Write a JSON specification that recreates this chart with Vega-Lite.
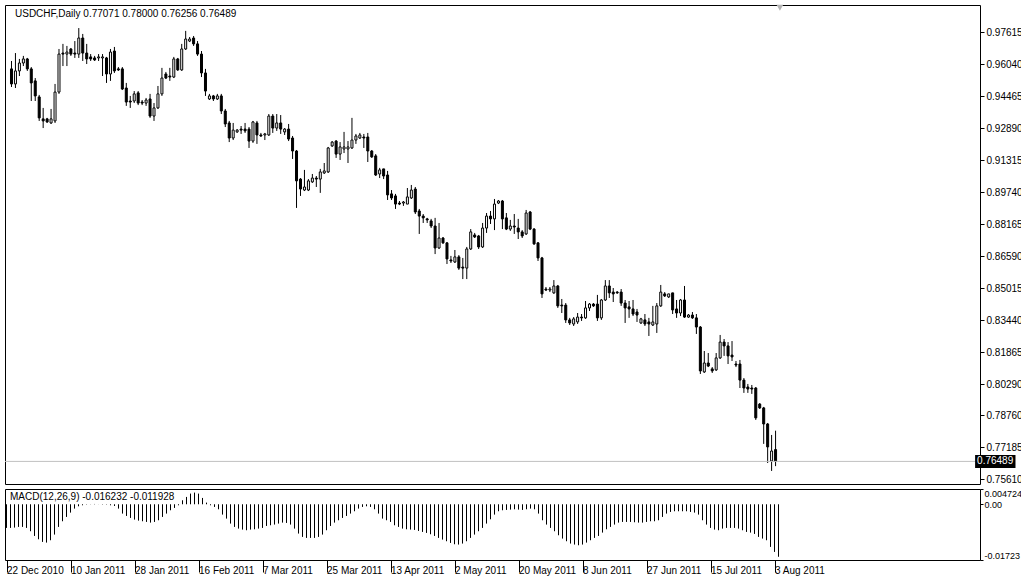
{
"$schema":"https://vega.github.io/schema/vega-lite/v6.json",
"padding":{"left":4,"top":4,"right":0,"bottom":0},
"background":"white",
"spacing":3,
"config":{"font":"Liberation Sans","view":{"stroke":"black","strokeWidth":1},"axis":{"grid":false,"domain":false,"labelColor":"black","tickColor":"black","labelFont":"Liberation Sans","titleFont":"Liberation Sans","labelOverlap":false}},
"data":{"values":[
{"i":0,"o":0.9580,"h":0.9619,"l":0.9491,"c":0.9506,"m":-0.00731},
{"i":1,"o":0.9506,"h":0.9658,"l":0.9486,"c":0.9570,"m":-0.00731},
{"i":2,"o":0.9570,"h":0.9629,"l":0.9545,"c":0.9609,"m":-0.00721},
{"i":3,"o":0.9609,"h":0.9644,"l":0.9594,"c":0.9629,"m":-0.00700},
{"i":4,"o":0.9629,"h":0.9634,"l":0.9570,"c":0.9580,"m":-0.00700},
{"i":5,"o":0.9580,"h":0.9589,"l":0.9422,"c":0.9511,"m":-0.00731},
{"i":6,"o":0.9521,"h":0.9535,"l":0.9422,"c":0.9447,"m":-0.00834},
{"i":7,"o":0.9442,"h":0.9452,"l":0.9324,"c":0.9339,"m":-0.00979},
{"i":8,"o":0.9334,"h":0.9388,"l":0.9289,"c":0.9324,"m":-0.01082},
{"i":9,"o":0.9334,"h":0.9339,"l":0.9314,"c":0.9319,"m":-0.01164},
{"i":10,"o":0.9314,"h":0.9383,"l":0.9309,"c":0.9334,"m":-0.01185},
{"i":11,"o":0.9324,"h":0.9506,"l":0.9314,"c":0.9466,"m":-0.01112},
{"i":12,"o":0.9466,"h":0.9678,"l":0.9457,"c":0.9653,"m":-0.00937},
{"i":13,"o":0.9658,"h":0.9703,"l":0.9594,"c":0.9653,"m":-0.00700},
{"i":14,"o":0.9653,"h":0.9693,"l":0.9594,"c":0.9663,"m":-0.00525},
{"i":15,"o":0.9678,"h":0.9683,"l":0.9644,"c":0.9653,"m":-0.00391},
{"i":16,"o":0.9658,"h":0.9717,"l":0.9634,"c":0.9653,"m":-0.00258},
{"i":17,"o":0.9653,"h":0.9781,"l":0.9634,"c":0.9732,"m":-0.00134},
{"i":18,"o":0.9732,"h":0.9752,"l":0.9619,"c":0.9658,"m":-0.00062},
{"i":19,"o":0.9658,"h":0.9703,"l":0.9604,"c":0.9629,"m":-0.00031},
{"i":20,"o":0.9639,"h":0.9653,"l":0.9619,"c":0.9629,"m":-0.00010},
{"i":21,"o":0.9634,"h":0.9644,"l":0.9619,"c":0.9624,"m":-0.00005},
{"i":22,"o":0.9634,"h":0.9653,"l":0.9619,"c":0.9639,"m":0.00010},
{"i":23,"o":0.9634,"h":0.9653,"l":0.9545,"c":0.9639,"m":0.00003},
{"i":24,"o":0.9634,"h":0.9639,"l":0.9511,"c":0.9555,"m":-0.00010},
{"i":25,"o":0.9555,"h":0.9678,"l":0.9521,"c":0.9663,"m":-0.00010},
{"i":26,"o":0.9668,"h":0.9688,"l":0.9560,"c":0.9570,"m":-0.00031},
{"i":27,"o":0.9580,"h":0.9589,"l":0.9570,"c":0.9575,"m":-0.00052},
{"i":28,"o":0.9580,"h":0.9589,"l":0.9476,"c":0.9481,"m":-0.00134},
{"i":29,"o":0.9486,"h":0.9511,"l":0.9398,"c":0.9417,"m":-0.00288},
{"i":30,"o":0.9422,"h":0.9447,"l":0.9388,"c":0.9417,"m":-0.00361},
{"i":31,"o":0.9422,"h":0.9471,"l":0.9412,"c":0.9457,"m":-0.00422},
{"i":32,"o":0.9462,"h":0.9471,"l":0.9402,"c":0.9412,"m":-0.00474},
{"i":33,"o":0.9417,"h":0.9427,"l":0.9402,"c":0.9412,"m":-0.00505},
{"i":34,"o":0.9412,"h":0.9437,"l":0.9398,"c":0.9427,"m":-0.00525},
{"i":35,"o":0.9432,"h":0.9457,"l":0.9339,"c":0.9348,"m":-0.00546},
{"i":36,"o":0.9348,"h":0.9412,"l":0.9324,"c":0.9388,"m":-0.00567},
{"i":37,"o":0.9388,"h":0.9496,"l":0.9383,"c":0.9457,"m":-0.00546},
{"i":38,"o":0.9457,"h":0.9585,"l":0.9447,"c":0.9535,"m":-0.00494},
{"i":39,"o":0.9555,"h":0.9565,"l":0.9530,"c":0.9535,"m":-0.00391},
{"i":40,"o":0.9545,"h":0.9585,"l":0.9521,"c":0.9540,"m":-0.00288},
{"i":41,"o":0.9540,"h":0.9639,"l":0.9535,"c":0.9629,"m":-0.00185},
{"i":42,"o":0.9629,"h":0.9634,"l":0.9570,"c":0.9575,"m":-0.00113},
{"i":43,"o":0.9575,"h":0.9703,"l":0.9570,"c":0.9678,"m":-0.00031},
{"i":44,"o":0.9678,"h":0.9767,"l":0.9673,"c":0.9727,"m":0.00124},
{"i":45,"o":0.9717,"h":0.9737,"l":0.9712,"c":0.9727,"m":0.00227},
{"i":46,"o":0.9732,"h":0.9742,"l":0.9693,"c":0.9703,"m":0.00330},
{"i":47,"o":0.9703,"h":0.9717,"l":0.9644,"c":0.9653,"m":0.00361},
{"i":48,"o":0.9653,"h":0.9668,"l":0.9540,"c":0.9560,"m":0.00330},
{"i":49,"o":0.9560,"h":0.9580,"l":0.9447,"c":0.9471,"m":0.00196},
{"i":50,"o":0.9432,"h":0.9457,"l":0.9427,"c":0.9447,"m":0.00052},
{"i":51,"o":0.9447,"h":0.9452,"l":0.9422,"c":0.9432,"m":-0.00031},
{"i":52,"o":0.9432,"h":0.9457,"l":0.9427,"c":0.9447,"m":-0.00082},
{"i":53,"o":0.9447,"h":0.9457,"l":0.9358,"c":0.9373,"m":-0.00155},
{"i":54,"o":0.9373,"h":0.9383,"l":0.9294,"c":0.9309,"m":-0.00319},
{"i":55,"o":0.9314,"h":0.9324,"l":0.9220,"c":0.9240,"m":-0.00443},
{"i":56,"o":0.9240,"h":0.9314,"l":0.9230,"c":0.9279,"m":-0.00597},
{"i":57,"o":0.9270,"h":0.9284,"l":0.9265,"c":0.9279,"m":-0.00700},
{"i":58,"o":0.9284,"h":0.9299,"l":0.9260,"c":0.9279,"m":-0.00752},
{"i":59,"o":0.9284,"h":0.9314,"l":0.9265,"c":0.9275,"m":-0.00783},
{"i":60,"o":0.9284,"h":0.9294,"l":0.9191,"c":0.9225,"m":-0.00803},
{"i":61,"o":0.9225,"h":0.9324,"l":0.9216,"c":0.9319,"m":-0.00783},
{"i":62,"o":0.9314,"h":0.9324,"l":0.9211,"c":0.9255,"m":-0.00773},
{"i":63,"o":0.9255,"h":0.9265,"l":0.9245,"c":0.9250,"m":-0.00752},
{"i":64,"o":0.9255,"h":0.9265,"l":0.9230,"c":0.9260,"m":-0.00731},
{"i":65,"o":0.9255,"h":0.9358,"l":0.9250,"c":0.9348,"m":-0.00670},
{"i":66,"o":0.9348,"h":0.9358,"l":0.9265,"c":0.9289,"m":-0.00649},
{"i":67,"o":0.9289,"h":0.9358,"l":0.9275,"c":0.9314,"m":-0.00628},
{"i":68,"o":0.9314,"h":0.9353,"l":0.9260,"c":0.9284,"m":-0.00597},
{"i":69,"o":0.9270,"h":0.9289,"l":0.9255,"c":0.9284,"m":-0.00567},
{"i":70,"o":0.9284,"h":0.9309,"l":0.9225,"c":0.9235,"m":-0.00577},
{"i":71,"o":0.9240,"h":0.9250,"l":0.9137,"c":0.9176,"m":-0.00628},
{"i":72,"o":0.9176,"h":0.9181,"l":0.8896,"c":0.9029,"m":-0.00752},
{"i":73,"o":0.9038,"h":0.9043,"l":0.8955,"c":0.8989,"m":-0.00906},
{"i":74,"o":0.8984,"h":0.9083,"l":0.8979,"c":0.8999,"m":-0.01009},
{"i":75,"o":0.8984,"h":0.9038,"l":0.8979,"c":0.9029,"m":-0.01040},
{"i":76,"o":0.9024,"h":0.9063,"l":0.9019,"c":0.9043,"m":-0.01040},
{"i":77,"o":0.9043,"h":0.9053,"l":0.8999,"c":0.9038,"m":-0.01040},
{"i":78,"o":0.9038,"h":0.9088,"l":0.8970,"c":0.9073,"m":-0.01009},
{"i":79,"o":0.9068,"h":0.9117,"l":0.9063,"c":0.9078,"m":-0.00937},
{"i":80,"o":0.9073,"h":0.9196,"l":0.9068,"c":0.9191,"m":-0.00803},
{"i":81,"o":0.9201,"h":0.9225,"l":0.9196,"c":0.9220,"m":-0.00670},
{"i":82,"o":0.9225,"h":0.9230,"l":0.9142,"c":0.9161,"m":-0.00567},
{"i":83,"o":0.9161,"h":0.9220,"l":0.9132,"c":0.9196,"m":-0.00494},
{"i":84,"o":0.9186,"h":0.9270,"l":0.9166,"c":0.9196,"m":-0.00422},
{"i":85,"o":0.9186,"h":0.9225,"l":0.9117,"c":0.9196,"m":-0.00361},
{"i":86,"o":0.9191,"h":0.9339,"l":0.9186,"c":0.9230,"m":-0.00288},
{"i":87,"o":0.9230,"h":0.9260,"l":0.9211,"c":0.9250,"m":-0.00216},
{"i":88,"o":0.9240,"h":0.9265,"l":0.9235,"c":0.9255,"m":-0.00134},
{"i":89,"o":0.9245,"h":0.9260,"l":0.9191,"c":0.9240,"m":-0.00082},
{"i":90,"o":0.9245,"h":0.9265,"l":0.9122,"c":0.9176,"m":-0.00062},
{"i":91,"o":0.9176,"h":0.9181,"l":0.9142,"c":0.9147,"m":-0.00082},
{"i":92,"o":0.9152,"h":0.9161,"l":0.9053,"c":0.9058,"m":-0.00155},
{"i":93,"o":0.9063,"h":0.9093,"l":0.9043,"c":0.9083,"m":-0.00288},
{"i":94,"o":0.9088,"h":0.9088,"l":0.9038,"c":0.9053,"m":-0.00443},
{"i":95,"o":0.9058,"h":0.9078,"l":0.8935,"c":0.8960,"m":-0.00494},
{"i":96,"o":0.8965,"h":0.8984,"l":0.8935,"c":0.8945,"m":-0.00546},
{"i":97,"o":0.8955,"h":0.8965,"l":0.8891,"c":0.8915,"m":-0.00649},
{"i":98,"o":0.8920,"h":0.8930,"l":0.8910,"c":0.8915,"m":-0.00700},
{"i":99,"o":0.8920,"h":0.8930,"l":0.8906,"c":0.8925,"m":-0.00752},
{"i":100,"o":0.8915,"h":0.8994,"l":0.8915,"c":0.8950,"m":-0.00773},
{"i":101,"o":0.8945,"h":0.9009,"l":0.8940,"c":0.8984,"m":-0.00783},
{"i":102,"o":0.8989,"h":0.8999,"l":0.8866,"c":0.8876,"m":-0.00793},
{"i":103,"o":0.8881,"h":0.8891,"l":0.8768,"c":0.8856,"m":-0.00824},
{"i":104,"o":0.8856,"h":0.8866,"l":0.8822,"c":0.8847,"m":-0.00855},
{"i":105,"o":0.8842,"h":0.8847,"l":0.8822,"c":0.8837,"m":-0.00886},
{"i":106,"o":0.8832,"h":0.8842,"l":0.8797,"c":0.8807,"m":-0.00927},
{"i":107,"o":0.8807,"h":0.8847,"l":0.8669,"c":0.8699,"m":-0.00979},
{"i":108,"o":0.8699,"h":0.8822,"l":0.8694,"c":0.8748,"m":-0.01040},
{"i":109,"o":0.8748,"h":0.8753,"l":0.8719,"c":0.8724,"m":-0.01092},
{"i":110,"o":0.8724,"h":0.8728,"l":0.8620,"c":0.8645,"m":-0.01143},
{"i":111,"o":0.8640,"h":0.8660,"l":0.8625,"c":0.8635,"m":-0.01195},
{"i":112,"o":0.8630,"h":0.8689,"l":0.8625,"c":0.8655,"m":-0.01236},
{"i":113,"o":0.8655,"h":0.8664,"l":0.8591,"c":0.8600,"m":-0.01246},
{"i":114,"o":0.8605,"h":0.8650,"l":0.8546,"c":0.8600,"m":-0.01215},
{"i":115,"o":0.8600,"h":0.8704,"l":0.8546,"c":0.8694,"m":-0.01143},
{"i":116,"o":0.8694,"h":0.8792,"l":0.8689,"c":0.8778,"m":-0.01040},
{"i":117,"o":0.8763,"h":0.8773,"l":0.8748,"c":0.8753,"m":-0.00937},
{"i":118,"o":0.8758,"h":0.8763,"l":0.8694,"c":0.8704,"m":-0.00834},
{"i":119,"o":0.8704,"h":0.8822,"l":0.8699,"c":0.8797,"m":-0.00731},
{"i":120,"o":0.8797,"h":0.8871,"l":0.8773,"c":0.8856,"m":-0.00597},
{"i":121,"o":0.8856,"h":0.8881,"l":0.8817,"c":0.8842,"m":-0.00464},
{"i":122,"o":0.8842,"h":0.8940,"l":0.8787,"c":0.8915,"m":-0.00319},
{"i":123,"o":0.8920,"h":0.8935,"l":0.8915,"c":0.8930,"m":-0.00216},
{"i":124,"o":0.8930,"h":0.8935,"l":0.8792,"c":0.8842,"m":-0.00185},
{"i":125,"o":0.8847,"h":0.8871,"l":0.8787,"c":0.8792,"m":-0.00175},
{"i":126,"o":0.8792,"h":0.8837,"l":0.8783,"c":0.8807,"m":-0.00165},
{"i":127,"o":0.8807,"h":0.8866,"l":0.8768,"c":0.8802,"m":-0.00155},
{"i":128,"o":0.8797,"h":0.8842,"l":0.8743,"c":0.8778,"m":-0.00165},
{"i":129,"o":0.8778,"h":0.8787,"l":0.8748,"c":0.8758,"m":-0.00175},
{"i":130,"o":0.8768,"h":0.8886,"l":0.8763,"c":0.8871,"m":-0.00155},
{"i":131,"o":0.8876,"h":0.8881,"l":0.8787,"c":0.8792,"m":-0.00134},
{"i":132,"o":0.8792,"h":0.8797,"l":0.8714,"c":0.8719,"m":-0.00155},
{"i":133,"o":0.8724,"h":0.8728,"l":0.8635,"c":0.8650,"m":-0.00288},
{"i":134,"o":0.8650,"h":0.8655,"l":0.8453,"c":0.8473,"m":-0.00494},
{"i":135,"o":0.8497,"h":0.8507,"l":0.8487,"c":0.8492,"m":-0.00628},
{"i":136,"o":0.8492,"h":0.8507,"l":0.8482,"c":0.8497,"m":-0.00731},
{"i":137,"o":0.8478,"h":0.8541,"l":0.8473,"c":0.8512,"m":-0.00834},
{"i":138,"o":0.8512,"h":0.8517,"l":0.8404,"c":0.8414,"m":-0.00958},
{"i":139,"o":0.8418,"h":0.8448,"l":0.8379,"c":0.8414,"m":-0.01061},
{"i":140,"o":0.8418,"h":0.8428,"l":0.8330,"c":0.8345,"m":-0.01143},
{"i":141,"o":0.8345,"h":0.8355,"l":0.8320,"c":0.8330,"m":-0.01215},
{"i":142,"o":0.8325,"h":0.8359,"l":0.8315,"c":0.8350,"m":-0.01246},
{"i":143,"o":0.8335,"h":0.8379,"l":0.8325,"c":0.8359,"m":-0.01267},
{"i":144,"o":0.8359,"h":0.8374,"l":0.8340,"c":0.8355,"m":-0.01246},
{"i":145,"o":0.8355,"h":0.8438,"l":0.8350,"c":0.8404,"m":-0.01185},
{"i":146,"o":0.8404,"h":0.8428,"l":0.8389,"c":0.8423,"m":-0.01112},
{"i":147,"o":0.8423,"h":0.8428,"l":0.8409,"c":0.8414,"m":-0.01040},
{"i":148,"o":0.8423,"h":0.8468,"l":0.8340,"c":0.8355,"m":-0.00979},
{"i":149,"o":0.8355,"h":0.8448,"l":0.8345,"c":0.8443,"m":-0.00876},
{"i":150,"o":0.8443,"h":0.8541,"l":0.8438,"c":0.8512,"m":-0.00773},
{"i":151,"o":0.8512,"h":0.8541,"l":0.8453,"c":0.8478,"m":-0.00700},
{"i":152,"o":0.8482,"h":0.8502,"l":0.8433,"c":0.8473,"m":-0.00628},
{"i":153,"o":0.8482,"h":0.8487,"l":0.8473,"c":0.8478,"m":-0.00567},
{"i":154,"o":0.8482,"h":0.8497,"l":0.8414,"c":0.8428,"m":-0.00546},
{"i":155,"o":0.8428,"h":0.8443,"l":0.8330,"c":0.8404,"m":-0.00546},
{"i":156,"o":0.8409,"h":0.8438,"l":0.8355,"c":0.8399,"m":-0.00546},
{"i":157,"o":0.8399,"h":0.8443,"l":0.8364,"c":0.8374,"m":-0.00556},
{"i":158,"o":0.8384,"h":0.8399,"l":0.8335,"c":0.8369,"m":-0.00567},
{"i":159,"o":0.8330,"h":0.8355,"l":0.8325,"c":0.8350,"m":-0.00567},
{"i":160,"o":0.8345,"h":0.8374,"l":0.8315,"c":0.8325,"m":-0.00546},
{"i":161,"o":0.8335,"h":0.8355,"l":0.8266,"c":0.8325,"m":-0.00525},
{"i":162,"o":0.8320,"h":0.8414,"l":0.8315,"c":0.8335,"m":-0.00525},
{"i":163,"o":0.8325,"h":0.8428,"l":0.8281,"c":0.8414,"m":-0.00494},
{"i":164,"o":0.8414,"h":0.8517,"l":0.8409,"c":0.8482,"m":-0.00391},
{"i":165,"o":0.8473,"h":0.8482,"l":0.8458,"c":0.8463,"m":-0.00288},
{"i":166,"o":0.8458,"h":0.8473,"l":0.8453,"c":0.8473,"m":-0.00237},
{"i":167,"o":0.8478,"h":0.8478,"l":0.8374,"c":0.8394,"m":-0.00216},
{"i":168,"o":0.8399,"h":0.8443,"l":0.8355,"c":0.8379,"m":-0.00216},
{"i":169,"o":0.8379,"h":0.8448,"l":0.8364,"c":0.8443,"m":-0.00216},
{"i":170,"o":0.8443,"h":0.8512,"l":0.8355,"c":0.8359,"m":-0.00216},
{"i":171,"o":0.8359,"h":0.8374,"l":0.8355,"c":0.8369,"m":-0.00237},
{"i":172,"o":0.8369,"h":0.8384,"l":0.8350,"c":0.8355,"m":-0.00258},
{"i":173,"o":0.8355,"h":0.8374,"l":0.8276,"c":0.8310,"m":-0.00319},
{"i":174,"o":0.8310,"h":0.8315,"l":0.8079,"c":0.8094,"m":-0.00494},
{"i":175,"o":0.8089,"h":0.8192,"l":0.8084,"c":0.8133,"m":-0.00628},
{"i":176,"o":0.8133,"h":0.8182,"l":0.8113,"c":0.8118,"m":-0.00731},
{"i":177,"o":0.8104,"h":0.8113,"l":0.8084,"c":0.8094,"m":-0.00783},
{"i":178,"o":0.8099,"h":0.8182,"l":0.8094,"c":0.8158,"m":-0.00803},
{"i":179,"o":0.8158,"h":0.8271,"l":0.8153,"c":0.8236,"m":-0.00752},
{"i":180,"o":0.8236,"h":0.8251,"l":0.8168,"c":0.8217,"m":-0.00731},
{"i":181,"o":0.8217,"h":0.8236,"l":0.8128,"c":0.8168,"m":-0.00731},
{"i":182,"o":0.8172,"h":0.8241,"l":0.8143,"c":0.8163,"m":-0.00731},
{"i":183,"o":0.8128,"h":0.8143,"l":0.8113,"c":0.8123,"m":-0.00752},
{"i":184,"o":0.8128,"h":0.8148,"l":0.8010,"c":0.8049,"m":-0.00803},
{"i":185,"o":0.8049,"h":0.8059,"l":0.7986,"c":0.8010,"m":-0.00855},
{"i":186,"o":0.8015,"h":0.8030,"l":0.7986,"c":0.8005,"m":-0.00876},
{"i":187,"o":0.8010,"h":0.8025,"l":0.7981,"c":0.8005,"m":-0.00917},
{"i":188,"o":0.8010,"h":0.8015,"l":0.7853,"c":0.7863,"m":-0.01009},
{"i":189,"o":0.7931,"h":0.7936,"l":0.7907,"c":0.7912,"m":-0.01061},
{"i":190,"o":0.7912,"h":0.7917,"l":0.7735,"c":0.7833,"m":-0.01112},
{"i":191,"o":0.7833,"h":0.7838,"l":0.7641,"c":0.7720,"m":-0.01318},
{"i":192,"o":0.7651,"h":0.7779,"l":0.7602,"c":0.7700,"m":-0.01473},
{"i":193,"o":0.77071,"h":0.78000,"l":0.76256,"c":0.76489,"m":-0.016232}
]},
"vconcat":[
{
"width":975,"height":479,
"layer":[
{"mark":{"type":"rule","color":"black","strokeWidth":1},
 "encoding":{"x":{"field":"i","type":"quantitative","scale":{"domain":[-0.375,243.375],"nice":false,"zero":false},"axis":null},
  "y":{"field":"l","type":"quantitative","scale":{"domain":[0.75377,0.98944],"nice":false,"zero":false},
  "axis":{"orient":"right","values":[0.97615,0.9604,0.94465,0.9289,0.91315,0.8974,0.88165,0.8659,0.85015,0.8344,0.81865,0.8029,0.7876,0.77185,0.7561],"tickCount":100,"labelExpr":"format(datum.value,'.5f')","tickSize":4,"labelPadding":2,"labelFontSize":10,"title":null,"labelOverlap":false,"labelFlush":false,"labelBound":false}},
  "y2":{"field":"h"}}},
{"mark":{"type":"bar","size":2,"stroke":"black","strokeWidth":1},
 "encoding":{"x":{"field":"i","type":"quantitative"},
  "y":{"field":"o","type":"quantitative"},"y2":{"field":"c"},
  "fill":{"condition":{"test":"datum.c < datum.o","value":"black"},"value":"white"}}},
{"data":{"values":[{"p":0.76489,"t":"0.76489"}]},"mark":{"type":"rule","color":"#c0c0c0","strokeWidth":1},
 "encoding":{"y":{"field":"p","type":"quantitative"}}},
{"data":{"values":[{"p":0.76489,"t":"0.76489"}]},"mark":{"type":"rect","color":"black"},
 "encoding":{"x":{"datum":243.4},"x2":{"datum":253.6},"y":{"datum":0.76169},"y2":{"datum":0.76809}}},
{"data":{"values":[{"p":0.76489,"t":"0.76489"}]},"mark":{"type":"text","color":"white","align":"left","baseline":"middle","fontSize":10,"dx":2},
 "encoding":{"x":{"datum":243.4},"y":{"field":"p","type":"quantitative"},"text":{"field":"t"}}},
{"data":{"values":[{"t":"USDCHF,Daily  0.77071 0.78000 0.76256 0.76489"}]},"mark":{"type":"text","color":"black","align":"left","baseline":"top","fontSize":10,"dx":5,"dy":4},
 "encoding":{"x":{"datum":-0.375},"y":{"datum":0.98944},"text":{"field":"t"}}},
{"data":{"values":[{"k":"shift"}]},"mark":{"type":"point","shape":"triangle-down","filled":true,"color":"#b4b4b4","size":45,"opacity":1},
 "encoding":{"x":{"datum":194.1},"y":{"datum":0.9881}}}
]
},
{
"width":975,"height":71,
"layer":[
{"mark":{"type":"rule","color":"black","strokeWidth":1},
"encoding":{
 "x":{"field":"i","type":"quantitative","scale":{"domain":[-0.375,243.375],"nice":false,"zero":false},
  "axis":{"values":[0,16,32,48,64,80,96,112,128,144,160,176,192],"tickCount":100,"labelExpr":"['22 Dec 2010','10 Jan 2011','28 Jan 2011','16 Feb 2011','7 Mar 2011','25 Mar 2011','13 Apr 2011','2 May 2011','20 May 2011','8 Jun 2011','27 Jun 2011','15 Jul 2011','3 Aug 2011'][round(datum.value/16)]","tickSize":12,"labelPadding":-7,"labelAlign":"left","labelBaseline":"top","labelDx":3,"labelFontSize":10,"title":null,"labelOverlap":false,"labelFlush":false}},
 "y":{"field":"m","type":"quantitative","scale":{"domain":[-0.01723,0.004724],"nice":false,"zero":false},
  "axis":{"orient":"right","values":[0.004724,0,-0.01723],"tickCount":100,"labelExpr":"datum.value==0?'0.00':(datum.value>0?'0.004724':'-0.01723')","labelFlush":true,"tickSize":3,"labelPadding":1,"labelFontSize":9,"title":null,"labelOverlap":false}},
 "y2":{"datum":0}
}},
{"data":{"values":[{"t":"MACD(12,26,9) -0.016232 -0.011928"}]},"mark":{"type":"text","color":"black","align":"left","baseline":"top","fontSize":10,"dx":5,"dy":3},
 "encoding":{"x":{"datum":-0.375},"y":{"datum":0.004724},"text":{"field":"t"}}}
]
}
]
}
